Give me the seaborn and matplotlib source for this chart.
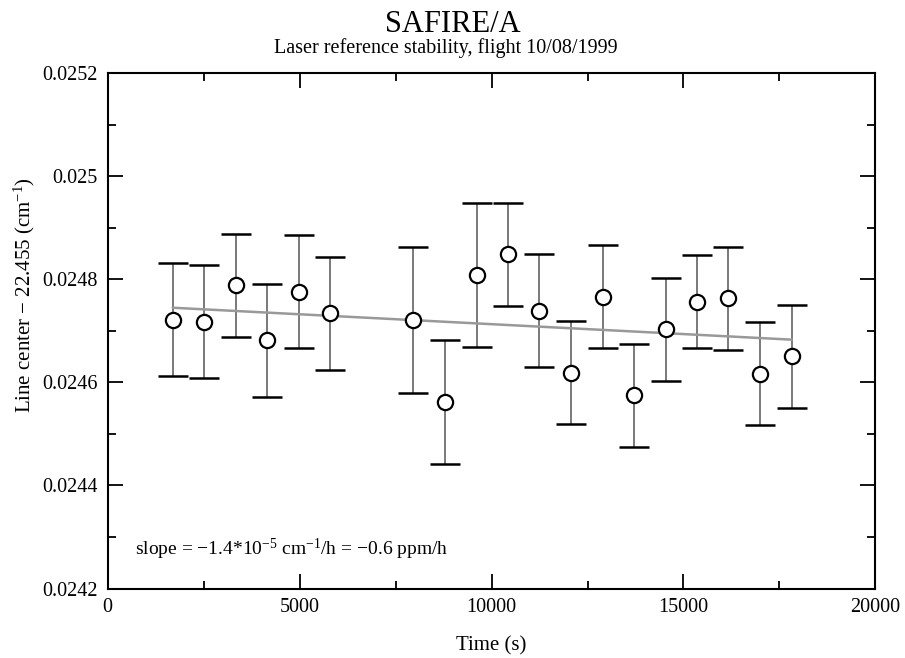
import numpy as np
import pandas as pd
import matplotlib
matplotlib.use('Agg')
import matplotlib.pyplot as plt
from matplotlib.ticker import MultipleLocator
import seaborn as sns

# values
time_s = [1694, 2517, 3335, 4151, 4977, 5792, 7962, 8788, 9614, 10438,
          11245, 12071, 12897, 13713, 14539, 15354, 16170, 16996, 17822]
line_center = [0.024722, 0.024718, 0.024789, 0.024682, 0.024776, 0.024734,
               0.024721, 0.024562, 0.024809, 0.024849, 0.024739, 0.024619,
               0.024766, 0.024575, 0.024703, 0.024757, 0.024763, 0.024617,
               0.024651]
err = [0.00011, 0.00011, 0.00010, 0.00011, 0.00011, 0.00011, 0.000141,
       0.00012, 0.00014, 0.00010, 0.00011, 0.00010, 0.00010, 0.00010,
       0.00010, 0.00009, 0.00010, 0.00010, 0.00010]
fit_x = [1694, 17822]
fit_y = [0.024745, 0.024683]

df = pd.DataFrame({'time': time_s, 'center': line_center, 'err': err})
fit = pd.DataFrame({'time': fit_x, 'center': fit_y})

sns.set_theme(style='ticks')
plt.rcParams['font.family'] = ['Liberation Serif', 'DejaVu Serif']
plt.rcParams['mathtext.fontset'] = 'custom'
plt.rcParams['mathtext.rm'] = 'Liberation Serif'
plt.rcParams['mathtext.it'] = 'Liberation Serif:italic'
plt.rcParams['text.color'] = 'black'

fig = plt.figure(figsize=(9.05, 6.58), dpi=100)
ax = fig.add_axes([0.119, 0.1056, 0.8483, 0.783])

sns.lineplot(data=fit, x='time', y='center', ax=ax, color='#999999', lw=1.8, zorder=2)
# grey stems
ax.errorbar(df['time'], df['center'], yerr=df['err'], fmt='none',
            ecolor='#555555', elinewidth=1.1, capsize=0, zorder=1)
# black caps
eb = ax.errorbar(df['time'], df['center'], yerr=df['err'], fmt='none',
                 ecolor='black', elinewidth=0, capsize=10.5, capthick=1.8, zorder=3)
for c in eb.lines[1]:
    c.set_markeredgecolor('black')
eb.lines[2][0].set_visible(False)
sns.scatterplot(data=df, x='time', y='center', ax=ax, marker='o', s=120,
                facecolor='white', edgecolor='black', linewidth=1.6, zorder=4)

ax.set_xlim(0, 20000)
ax.set_ylim(0.0242, 0.0252)
ax.xaxis.set_major_locator(MultipleLocator(5000))
ax.xaxis.set_minor_locator(MultipleLocator(2500))
ax.yaxis.set_major_locator(MultipleLocator(0.0002))
ax.yaxis.set_minor_locator(MultipleLocator(0.0001))
ax.yaxis.set_major_formatter(plt.FuncFormatter(
    lambda v, p: '0.025' if abs(v - 0.025) < 1e-9 else f'{v:.4f}'))
ax.tick_params(which='both', direction='in', top=True, right=True, width=1.3,
               colors='black')
ax.tick_params(which='major', length=11, labelsize=14.5, pad=7)
ax.tick_params(which='minor', length=5.5)
for s in ax.spines.values():
    s.set_linewidth(1.5)
    s.set_color('black')
ax.set_xlabel('')
ax.set_ylabel('')

fig.text(0.5, 0.952, 'SAFIRE/A', ha='center', va='baseline', fontsize=22)
fig.text(0.493, 0.92, 'Laser reference stability, flight 10/08/1999',
         ha='center', va='baseline', fontsize=14.5)
fig.text(0.543, 0.012, 'Time (s)', ha='center', va='baseline', fontsize=15)
fig.text(0.027, 0.552, r'Line center $-$ 22.455 (cm$^{-1}$)', rotation=90,
         ha='center', va='center', fontsize=15)
ax.text(0.036, 0.065, r'slope = $-$1.4*10$^{-5}$ cm$^{-1}$/h = $-$0.6 ppm/h',
        transform=ax.transAxes, fontsize=14, va='baseline')

fig.savefig('out.png', dpi=100)
